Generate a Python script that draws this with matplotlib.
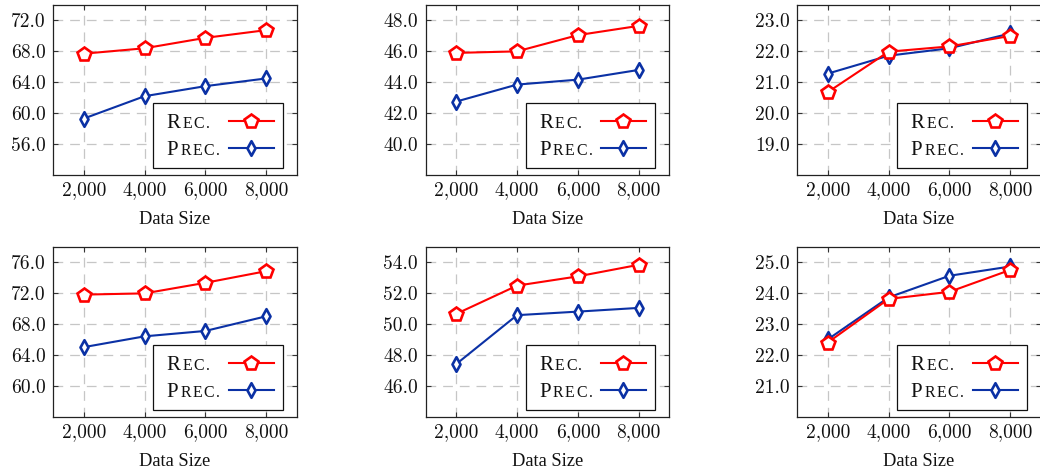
import matplotlib
matplotlib.use("Agg")
import matplotlib.pyplot as plt
from matplotlib.path import Path
from matplotlib.lines import Line2D
from matplotlib.font_manager import FontProperties
from matplotlib.offsetbox import TextArea, HPacker, VPacker, DrawingArea, AnchoredOffsetbox

# ---------------- data ----------------
data_sizes = [2000, 4000, 6000, 8000]
x_tick_labels = ["2,000", "4,000", "6,000", "8,000"]

rec_a = [67.7, 68.4, 69.75, 70.75]
prec_a = [59.3, 62.2, 63.5, 64.5]
rec_b = [45.9, 46.0, 47.05, 47.65]
prec_b = [42.75, 43.85, 44.17, 44.8]
rec_c = [20.68, 21.99, 22.16, 22.5]
prec_c = [21.28, 21.86, 22.1, 22.58]
rec_d = [71.8, 71.96, 73.33, 74.84]
prec_d = [65.0, 66.4, 67.1, 69.0]
rec_e = [50.65, 52.48, 53.08, 53.83]
prec_e = [47.4, 50.57, 50.8, 51.04]
rec_f = [22.4, 23.81, 24.04, 24.75]
prec_f = [22.5, 23.86, 24.56, 24.86]

y_ticks_a = [56, 60, 64, 68, 72]
y_ticks_b = [40, 42, 44, 46, 48]
y_ticks_c = [19, 20, 21, 22, 23]
y_ticks_d = [60, 64, 68, 72, 76]
y_ticks_e = [46, 48, 50, 52, 54]
y_ticks_f = [21, 22, 23, 24, 25]

x_label = "Data Size"
legend_rec = ("R", "EC.")
legend_prec = ("P", "REC.")

# ---------------- style ----------------
RED = "#ff0000"
BLUE = "#0b31a5"
SERIF = "Liberation Serif"
TICKFONT = "cmr10"
plt.rcParams["lines.scale_dashes"] = False
plt.rcParams["axes.unicode_minus"] = False

W, H = 1040, 471
fig = plt.figure(figsize=(W / 100, H / 100), dpi=100)
renderer = fig.canvas.get_renderer()

col_left = [53.3, 425.7, 797.3]
ax_w = 243.5
row_top = [5.0, 246.7]
ax_h = 170.0

diamond = Path([(0, 1), (0.55, 0), (0, -1), (-0.55, 0), (0, 1)],
               [Path.MOVETO, Path.LINETO, Path.LINETO, Path.LINETO, Path.CLOSEPOLY])

panels = [
    (rec_a, prec_a, y_ticks_a, (52, 74)),
    (rec_b, prec_b, y_ticks_b, (38, 49)),
    (rec_c, prec_c, y_ticks_c, (18, 23.5)),
    (rec_d, prec_d, y_ticks_d, (56, 78)),
    (rec_e, prec_e, y_ticks_e, (44, 55)),
    (rec_f, prec_f, y_ticks_f, (20, 25.5)),
]

LEG_SIZE = 15.0
SMALL_SIZE = LEG_SIZE * 0.76
LETTER_GAP = 1.7  # px, mimics the wider small-caps glyphs
LW = 1.5
MEW = 1.9
MS_P = 10.0
MS_D = 10.5


def px2pt(v):
    return v * 72.0 / fig.dpi


def text_w(s, size):
    fp = FontProperties(family=SERIF, size=size)
    w, h, d = renderer.get_text_width_height_descent(s, fp, ismath=False)
    return px2pt(w)


def label_width(big, small):
    return (text_w(big, LEG_SIZE) + sum(text_w(ch, SMALL_SIZE) for ch in small)
            + len(small) * px2pt(LETTER_GAP))


label_widths = [label_width(b, s) for b, s in (legend_rec, legend_prec)]
max_lw = max(label_widths)
gap_pt = max(px2pt(61.7) - max_lw, px2pt(4))


def make_legend(ax):
    rows = []
    specs = [(legend_rec, RED, "p", MS_P), (legend_prec, BLUE, diamond, MS_D)]
    for (big, small), color, mk, ms in specs:
        parts = [TextArea(big, textprops=dict(family=SERIF, size=LEG_SIZE, color="#111111"))]
        parts += [TextArea(ch, textprops=dict(family=SERIF, size=SMALL_SIZE, color="#111111"))
                  for ch in small]
        txt = HPacker(children=parts, align="baseline", pad=0, sep=px2pt(LETTER_GAP))
        extra = max_lw - label_width(big, small)
        hw = px2pt(45)
        ymid = LEG_SIZE * 0.33
        da = DrawingArea(hw, 2 * ymid, 0, 0, clip=False)
        da.add_artist(Line2D([0, hw], [ymid, ymid], color=color, lw=LW))
        da.add_artist(Line2D([hw / 2], [ymid], color=color, marker=mk, ms=ms,
                             mfc="white", mec=color, mew=MEW, lw=0))
        row = HPacker(children=[txt, DrawingArea(extra + gap_pt, 1, 0, 0), da],
                      align="baseline", pad=0, sep=0)
        rows.append(row)
    rows_box = VPacker(children=rows, align="left", pad=0, sep=px2pt(8.5))
    inner = VPacker(children=[DrawingArea(1, px2pt(11.0), 0, 0), rows_box,
                              DrawingArea(1, px2pt(8.0), 0, 0)], align="left", pad=0, sep=0)
    outer = HPacker(children=[DrawingArea(px2pt(13.7), 1, 0, 0), inner,
                              DrawingArea(px2pt(9.3), 1, 0, 0)], align="center", pad=0, sep=0)
    box = AnchoredOffsetbox(loc="lower right", child=outer, pad=0, borderpad=0,
                            frameon=True, bbox_to_anchor=(1 - 14 / ax_w, 6.7 / ax_h),
                            bbox_transform=ax.transAxes)
    box.patch.set_linewidth(0.9)
    box.patch.set_edgecolor("#111111")
    box.zorder = 5
    ax.add_artist(box)


for i, (rec, prec, yt, ylim) in enumerate(panels):
    r, c = divmod(i, 3)
    left = col_left[c] / W
    bottom = (H - row_top[r] - ax_h) / H
    ax = fig.add_axes([left, bottom, ax_w / W, ax_h / H])
    ax.set_axisbelow(True)
    ax.grid(True, color="#c6c6c6", linestyle=(0, (7, 5)), linewidth=0.9)
    ax.plot(data_sizes, prec, color=BLUE, lw=LW, marker=diamond, ms=MS_D,
            mfc="white", mec=BLUE, mew=MEW, zorder=3)
    ax.plot(data_sizes, rec, color=RED, lw=LW, marker="p", ms=MS_P,
            mfc="white", mec=RED, mew=MEW, zorder=3)
    ax.set_xlim(1000, 9000)
    ax.set_ylim(*ylim)
    ax.set_xticks(data_sizes)
    ax.set_xticklabels(x_tick_labels)
    ax.set_yticks(yt)
    ax.set_yticklabels([f"{v:.1f}" for v in yt])
    for lab in ax.get_xticklabels() + ax.get_yticklabels():
        lab.set_family(TICKFONT)
        lab.set_size(14)
        lab.set_color("#111111")
    ax.tick_params(axis="both", direction="in", top=True, right=True, length=3.6,
                   width=0.8, color="#333333")
    ax.tick_params(axis="y", pad=5.5)
    ax.tick_params(axis="x", pad=4.5)
    for sp in ax.spines.values():
        sp.set_linewidth(0.9)
        sp.set_color("#222222")
    ax.set_xlabel(x_label, family=SERIF, size=13.2, labelpad=8.5, color="#111111")
    make_legend(ax)

fig.savefig("out.png", dpi=100)
